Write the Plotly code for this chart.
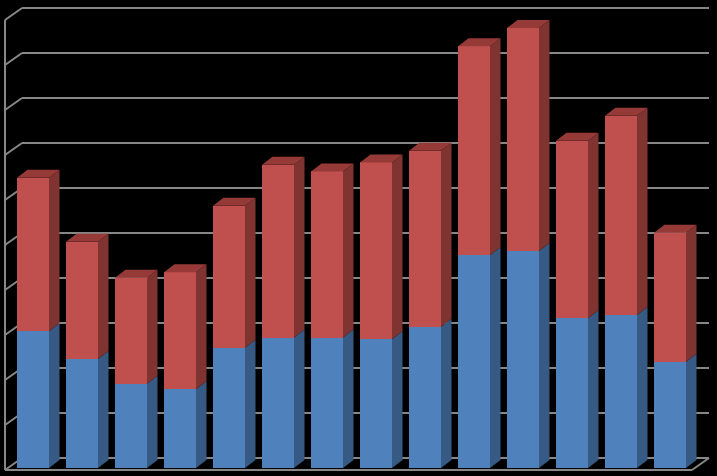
import plotly.graph_objects as go

# ---- data ----
categories = ["1", "2", "3", "4", "5", "6", "7", "8", "9", "10", "11", "12", "13", "14"]
series_blue = [30.4, 24.2, 18.7, 17.5, 26.7, 29.0, 29.0, 28.6, 31.4, 47.3, 48.2, 33.3, 34.0, 23.6]
series_red = [34.1, 26.1, 23.6, 26.0, 31.6, 38.4, 36.9, 39.3, 39.1, 46.4, 49.6, 39.4, 44.3, 28.7]
grid_values = [0, 10, 20, 30, 40, 50, 60, 70, 80, 90, 100]

# ---- layout / projection constants ----
W, H = 717, 476
PX_PER_CAT = 49.0       # horizontal spacing between bars in px
X0_PX = 33.0            # px of first bar center
PX_PER_VAL = 4.5        # px per value unit
BASE_PX = 468.0         # px of value 0 at bars' front plane

def xu(px):
    return (px - X0_PX) / PX_PER_CAT

def dxu(px):
    return px / PX_PER_CAT

def dvu(px):  # upward px -> value units
    return px / PX_PER_VAL

x_min = xu(0)
x_max = xu(W)
y_min = (BASE_PX - H) / PX_PER_VAL
y_max = BASE_PX / PX_PER_VAL

bar_w = dxu(32)
depth_dx = dxu(10.5)
depth_dv = dvu(8)

BLUE = "#4F81BD"
BLUE_SIDE = "#375A85"
RED = "#C0504D"
RED_SIDE = "#7F3432"
RED_TOP = "#963A38"
GRID = "#878787"

xs = list(range(len(categories)))

fig = go.Figure()
fig.add_trace(go.Bar(x=xs, y=series_blue, width=bar_w, marker=dict(color=BLUE, line=dict(width=0)),
                     name="Series 1", hoverinfo="skip"))
fig.add_trace(go.Bar(x=xs, y=series_red, width=bar_w, marker=dict(color=RED, line=dict(width=0)),
                     name="Series 2", hoverinfo="skip"))

def side_poly(xc, b, t):
    xr = xc + bar_w / 2
    return [xr, xr + depth_dx, xr + depth_dx, xr, xr, None], [b, b + depth_dv, t + depth_dv, t, b, None]

def top_poly(xc, t):
    xl = xc - bar_w / 2
    xr = xc + bar_w / 2
    return [xl, xl + depth_dx, xr + depth_dx, xr, xl, None], [t, t + depth_dv, t + depth_dv, t, t, None]

bsx, bsy, rsx, rsy, rtx, rty = [], [], [], [], [], []
for x, b, r in zip(xs, series_blue, series_red):
    px, py = side_poly(x, 0, b)
    bsx += px; bsy += py
    px, py = side_poly(x, b, b + r)
    rsx += px; rsy += py
    px, py = top_poly(x, b + r)
    rtx += px; rty += py

for fx, fy, col in [(bsx, bsy, BLUE_SIDE), (rsx, rsy, RED_SIDE), (rtx, rty, RED_TOP)]:
    fig.add_trace(go.Scatter(x=fx, y=fy, mode="lines", fill="toself", fillcolor=col,
                             line=dict(width=0, color=col), hoverinfo="skip", showlegend=False))

# ---- walls / gridlines ----
left_front = xu(5)
left_back = xu(22)
right_back = xu(709)
right_front = xu(692)
wall_dv = dvu(10)       # back wall offset relative to bars' front plane
floor_front_dv = -dvu(2)

shapes = []
line = dict(color=GRID, width=2)
for g in grid_values:
    shapes.append(dict(type="line", x0=left_back, x1=right_back, y0=g + wall_dv, y1=g + wall_dv,
                       line=line, layer="below"))
    shapes.append(dict(type="line", x0=left_front, x1=left_back, y0=g + floor_front_dv, y1=g + wall_dv,
                       line=line, layer="below"))
# left front vertical edge
shapes.append(dict(type="line", x0=left_front, x1=left_front, y0=grid_values[0] + floor_front_dv,
                   y1=grid_values[-1] + floor_front_dv, line=line, layer="below"))
# floor front edge and right edge
shapes.append(dict(type="line", x0=left_front, x1=right_front, y0=grid_values[0] + floor_front_dv,
                   y1=grid_values[0] + floor_front_dv, line=line, layer="below"))
shapes.append(dict(type="line", x0=right_front, x1=right_back, y0=grid_values[0] + floor_front_dv,
                   y1=grid_values[0] + wall_dv, line=line, layer="below"))

fig.update_layout(
    width=W, height=H,
    margin=dict(l=0, r=0, t=0, b=0),
    paper_bgcolor="black", plot_bgcolor="black",
    barmode="stack", bargap=0,
    showlegend=False,
    shapes=shapes,
    xaxis=dict(range=[x_min, x_max], visible=False, fixedrange=True),
    yaxis=dict(range=[y_min, y_max], visible=False, fixedrange=True),
)

fig.write_html("out.html", config={"displayModeBar": False},
               post_script="document.body.style.margin='0';document.body.style.background='black';")
